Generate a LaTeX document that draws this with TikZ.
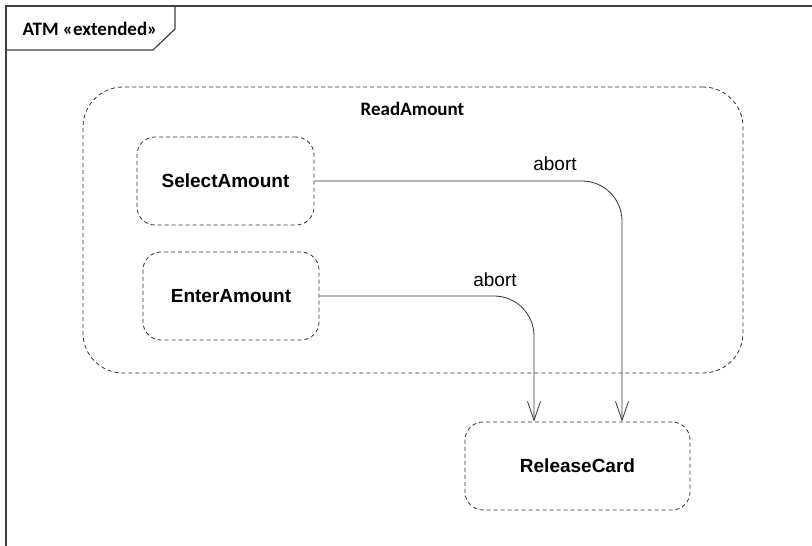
\documentclass[tikz,border=0pt]{standalone}
\usepackage{fontspec}
\setmainfont{Liberation Sans}
\newfontfamily\calibrifont{Carlito}
\usepackage{xcolor}
\usetikzlibrary{arrows.meta,positioning}

\begin{document}
\begin{tikzpicture}[
  x=1pt, y=-1pt,
  framebox/.style={draw=black!75, line width=1.2pt},
  statebox/.style={draw=black!80, dash pattern=on 4pt off 3pt, line width=0.8pt, rounded corners=18pt, align=center, minimum height=88pt, font=\fontsize{19}{23}\selectfont\bfseries, inner sep=0pt},
  compositebox/.style={draw=black!80, dash pattern=on 4pt off 3pt, line width=0.8pt, rounded corners=40pt, minimum width=660pt, minimum height=286pt, inner sep=0pt},
  title/.style={font=\fontsize{19}{23}\selectfont\calibrifont\bfseries, anchor=base, inner sep=0pt},
  trigger/.style={font=\fontsize{19}{23}\selectfont, anchor=base, inner sep=0pt},
  arrow/.style={-{Straight Barb[length=19pt,width=13pt]}, draw=black!80, line width=0.8pt, rounded corners=40pt}
]
\useasboundingbox (0,0) rectangle (812,546);
% frame and its tab
\draw[framebox] (6,546) -- (6,6) -- (812,6);
\draw[framebox] (6,50) -- (153,50) -- (175,29) -- (175,6);
\node[title] (atm) at (90,35) {ATM «extended»};
% composite state
\node[compositebox] (readamount) at (413,230) {};
\node[title] (readlabel) at (412.5,115) {ReadAmount};
% states
\node[statebox, minimum width=177pt] (select) at (225.5,181) {SelectAmount};
\node[statebox, minimum width=176pt] (enter) at (231,296) {EnterAmount};
\node[statebox, minimum width=225pt] (release) at (577.5,466) {ReleaseCard};
% transitions
\draw[arrow] (select.east) -| ([xshift=44.5pt]release.north);
\draw[arrow] (enter.east) -| ([xshift=-43.5pt]release.north);
\node[trigger] (abortselect) at (555,170) {abort};
\node[trigger] (abortenter) at (495,286) {abort};
\end{tikzpicture}
\end{document}
